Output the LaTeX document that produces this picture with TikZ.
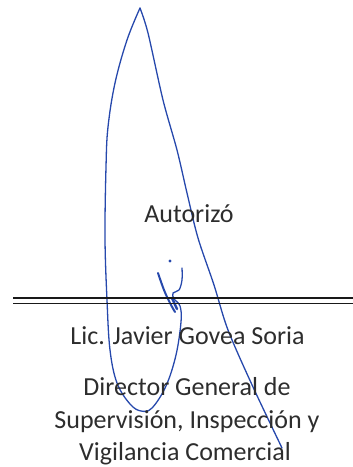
\documentclass[tikz,border=0pt]{standalone}
\usepackage{fontspec}
\setmainfont{Carlito}
\usepackage{xcolor}
\usetikzlibrary{positioning}
\definecolor{ink}{RGB}{38,72,172}
\definecolor{txt}{RGB}{45,45,45}
\definecolor{rule}{RGB}{25,25,25}

\begin{document}
\begin{tikzpicture}[x=1pt,y=-1pt,
        lbl/.style={font=\fontsize{26}{31}\selectfont, text=txt, inner sep=0pt, anchor=base},
        pen/.style={draw=ink, line width=1.3pt, line cap=round, line join=round}]
    \useasboundingbox (0,0) rectangle (353,467);

    % firma
    \draw[pen] plot[smooth, tension=0.5] coordinates {(140,8) (148,33) (163,100) (177,150) (187,193) (198,238) (214,285) (228,330) (253,387) (282,448)};
    \draw[pen] plot[smooth, tension=0.6] coordinates {(140,8) (127,40) (115,83) (108,127) (106,167) (105,238) (107,300) (110,350) (117,383) (130,404) (141,411) (152,408) (166,386) (176,355) (181,322) (180,306) (174,299) (173,293) (179,290) (182,280) (182,268)};
    \draw[pen, line width=2pt] plot[smooth, tension=0.6] coordinates {(158,273) (164,290) (170,303) (175,312)};
    \draw[pen, line width=2.4pt] (172,298) -- (177,309);
    \fill[ink] (170,261) circle (1.7);

    % linea doble
    \draw[rule, line width=1.8pt] (13,298) -- (353,298);
    \draw[rule, line width=1.8pt] (13,303.5) -- (353,303.5);

    \node[lbl] (autorizo) at (189,222) {Autorizó};
    \node[lbl] (nombre) at (187.5,344) {Lic. Javier Govea Soria};
    \node[lbl] (cargo1) at (187,395) {Director General de};
    \node[lbl] (cargo2) at (187,428.5) {Supervisión, Inspección y};
    \node[lbl] (cargo3) at (185,460) {Vigilancia Comercial};
\end{tikzpicture}
\end{document}
